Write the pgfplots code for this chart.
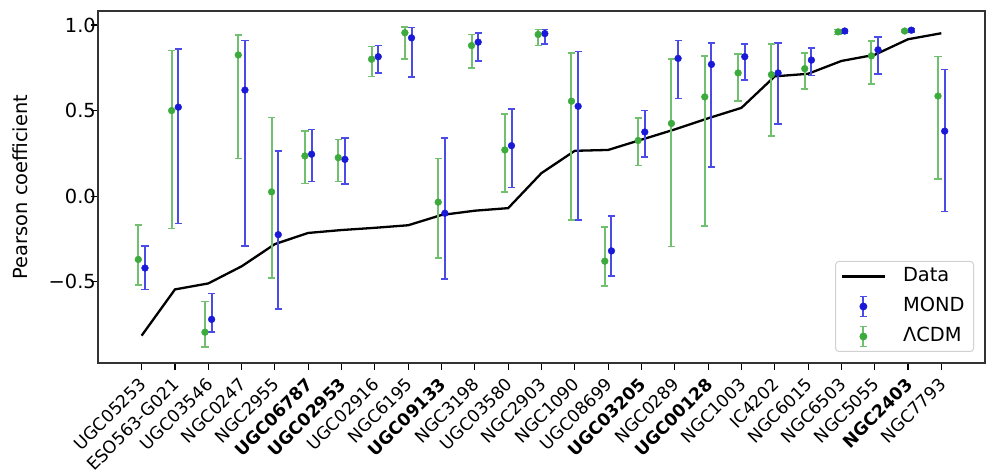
\documentclass[border=0pt]{standalone}
\usepackage{fontspec}
\setmainfont{DejaVu Sans}
\usepackage{pgfplots}
\usepackage{pgfplotstable}
\pgfplotsset{compat=1.18}

\definecolor{mondpt}{RGB}{25,25,215}
\definecolor{mondbar}{RGB}{75,75,232}
\definecolor{lcdmpt}{RGB}{60,170,60}
\definecolor{lcdmbar}{RGB}{112,192,112}

% i: galaxy index, gx/bx: x positions of the LCDM / MOND points
% gy,gp,gm: LCDM value, error +, error -; by,bp,bm: MOND; d: data
\pgfplotstableread{
i  gx    bx    gy      gp     gm     by      bp     bm     d
0  -0.1  0.1   -0.370  0.200  0.150  -0.420  0.130  0.125  -0.815
1  0.9   1.1   0.500   0.350  0.690  0.520   0.340  0.680  -0.545
2  1.9   2.1   -0.795  0.180  0.085  -0.720  0.150  0.075  -0.510
3  2.9   3.1   0.825   0.115  0.605  0.620   0.290  0.910  -0.410
4  3.9   4.1   0.025   0.435  0.505  -0.225  0.490  0.435  -0.280
5  4.9   5.1   0.235   0.145  0.160  0.245   0.145  0.160  -0.215
6  5.9   6.1   0.225   0.105  0.140  0.215   0.125  0.145  -0.198
7  6.9   7.1   0.800   0.075  0.100  0.815   0.065  0.095  -0.185
8  7.9   8.1   0.955   0.035  0.155  0.925   0.060  0.230  -0.170
9  8.9   9.1   -0.035  0.255  0.325  -0.100  0.440  0.385  -0.110
10 9.9   10.1  0.880   0.065  0.130  0.900   0.055  0.110  -0.085
11 10.9  11.1  0.270   0.210  0.245  0.295   0.215  0.245  -0.070
12 11.9  12.1  0.945   0.030  0.065  0.950   0.025  0.060  0.135
13 12.9  13.1  0.555   0.280  0.695  0.525   0.320  0.665  0.265
14 13.9  14.1  -0.380  0.200  0.145  -0.320  0.205  0.145  0.270
15 14.9  15.1  0.325   0.130  0.145  0.375   0.125  0.145  0.330
16 15.9  16.1  0.425   0.375  0.720  0.805   0.105  0.235  0.390
17 16.9  17.1  0.580   0.240  0.755  0.770   0.125  0.600  0.455
18 17.9  18.1  0.720   0.110  0.165  0.815   0.075  0.135  0.516
19 18.9  19.1  0.710   0.180  0.360  0.720   0.175  0.300  0.700
20 19.9  20.1  0.745   0.090  0.120  0.795   0.070  0.090  0.715
21 20.9  21.1  0.960   0.015  0.015  0.965   0.010  0.010  0.790
22 21.9  22.1  0.820   0.085  0.165  0.855   0.075  0.140  0.826
23 22.9  23.1  0.965   0.010  0.005  0.970   0.010  0.010  0.917
24 23.9  24.1  0.585   0.230  0.485  0.380   0.360  0.470  0.952
}\galaxies

\begin{document}
\begin{tikzpicture}
\begin{axis}[
    scale only axis,
    width=887pt, height=352pt,
    xmin=-1.31, xmax=25.31,
    ymin=-0.975, ymax=1.082,
    axis line style={line width=1.1pt, black!80},
    tick style={line width=1.1pt, black},
    tick align=outside,
    major tick length=7pt,
    xtick pos=left, ytick pos=left,
    xtick={0,...,24},
    xticklabels={UGC05253,ESO563-G021,UGC03546,NGC0247,NGC2955,\textbf{UGC06787},\textbf{UGC02953},UGC02916,NGC6195,\textbf{UGC09133},NGC3198,UGC03580,NGC2903,NGC1090,UGC08699,\textbf{UGC03205},NGC0289,\textbf{UGC00128},NGC1003,IC4202,NGC6015,NGC6503,NGC5055,\textbf{NGC2403},NGC7793},
    xticklabel style={font=\fontsize{17.3}{20}\selectfont, rotate=45, anchor=north east, inner sep=1pt, xshift=-6pt, yshift=-1pt},
    ytick={-0.5,0,0.5,1},
    yticklabels={−0.5,0.0,0.5,1.0},
    yticklabel style={font=\fontsize{19.4}{23}\selectfont, anchor=east, inner sep=0pt, xshift=5pt},
    ylabel={Pearson coefficient},
    every axis y label/.style={at={(rel axis cs:0,0.5)}, xshift=-78pt, rotate=90, anchor=center, font=\fontsize{19.4}{23}\selectfont},
    legend style={at={(rel axis cs:1,0)}, anchor=south east, xshift=-11pt, yshift=11pt,
        font=\fontsize{19.4}{23}\selectfont, draw=black!18, line width=1pt, rounded corners=3pt,
        inner xsep=5pt, inner ysep=2pt, row sep=4pt,
        nodes={inner xsep=4pt, inner ysep=4pt, text height=14pt, text depth=4pt}},
    legend cell align=left,
]
\addplot[black, line width=2.3pt, legend image code/.code={
        \path (0pt,0pt) (56pt,0pt);
        \draw[black, line width=2.3pt] (0pt,0pt) -- (43pt,0pt);}]
    table[x=i, y=d] {\galaxies};
\addlegendentry{Data}

\addplot[only marks, mark=*, mark size=3.4pt, mondpt,
    error bars/.cd, y dir=both, y explicit,
    error bar style={line width=2pt, mondbar},
    error mark options={rotate=90, line width=1.6pt, mondbar, mark size=3.6pt},
    /pgfplots/legend image code/.code={
        \path (0pt,0pt) (56pt,0pt);
        \draw[mondbar, line width=2pt] (21.5pt,-10pt) -- (21.5pt,10pt);
        \draw[mondbar, line width=1.6pt] (18pt,-10pt) -- (25pt,-10pt) (18pt,10pt) -- (25pt,10pt);
        \fill[mondpt] (21.5pt,0pt) circle (3.4pt);}]
    table[x=bx, y=by, y error plus=bp, y error minus=bm] {\galaxies};
\addlegendentry{MOND}

\addplot[only marks, mark=*, mark size=3.4pt, lcdmpt,
    error bars/.cd, y dir=both, y explicit,
    error bar style={line width=2pt, lcdmbar},
    error mark options={rotate=90, line width=1.6pt, lcdmbar, mark size=3.6pt},
    /pgfplots/legend image code/.code={
        \path (0pt,0pt) (56pt,0pt);
        \draw[lcdmbar, line width=2pt] (21.5pt,-10pt) -- (21.5pt,10pt);
        \draw[lcdmbar, line width=1.6pt] (18pt,-10pt) -- (25pt,-10pt) (18pt,10pt) -- (25pt,10pt);
        \fill[lcdmpt] (21.5pt,0pt) circle (3.4pt);}]
    table[x=gx, y=gy, y error plus=gp, y error minus=gm] {\galaxies};
\addlegendentry{ΛCDM}

\coordinate (bl) at (rel axis cs:0,0);
\coordinate (tr) at (rel axis cs:1,1);
\end{axis}
\pgfresetboundingbox
\path ([xshift=-98pt,yshift=-113pt]bl) rectangle ([xshift=11pt,yshift=11pt]tr);
\end{tikzpicture}
\end{document}
